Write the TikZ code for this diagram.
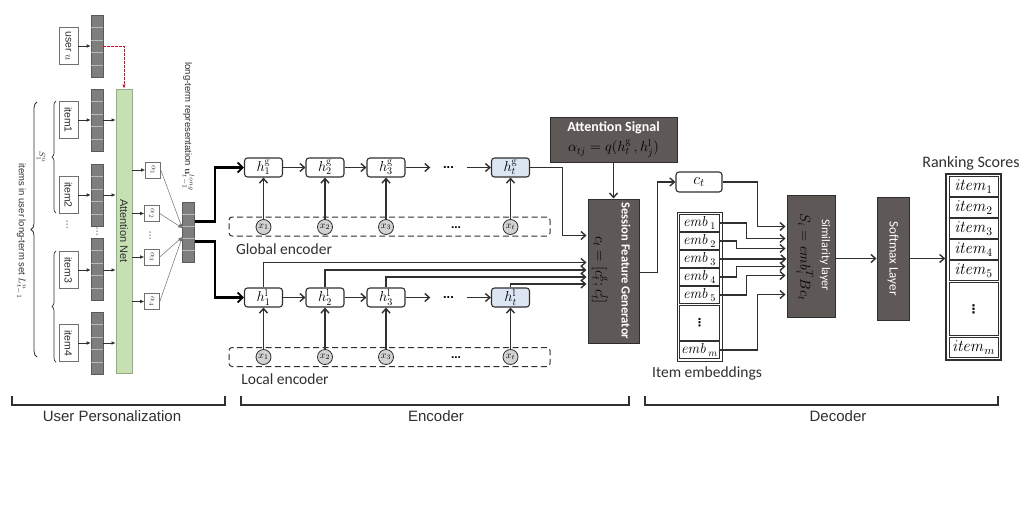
\RequirePackage{fix-cm}
\documentclass[tikz,border=0pt]{standalone}
\usepackage[no-math]{fontspec}
\setmainfont{Liberation Sans}
\newfontfamily\calib{Carlito}
\newfontfamily\djv{DejaVu Sans}
\usetikzlibrary{arrows.meta,calc,decorations.pathreplacing}
\definecolor{cellf}{HTML}{7E7E7E}
\definecolor{cellsep}{HTML}{B8B8B8}
\definecolor{celledge}{HTML}{5A5A5A}
\definecolor{grnf}{HTML}{C6E0B4}
\definecolor{grnd}{HTML}{93AE85}
\definecolor{dkf}{HTML}{5E5957}
\definecolor{dkd}{HTML}{2E2E2E}
\definecolor{lbl}{HTML}{DCE6F2}
\definecolor{circf}{HTML}{D2D2D2}
\definecolor{ink}{HTML}{303030}
\definecolor{redl}{HTML}{C8102E}
\definecolor{lgray}{HTML}{707070}
\newcommand{\fsz}[1]{\fontsize{#1}{#1}\selectfont}
\newcommand{\colseps}[1]{\foreach \k in {1,2,3,4}{\draw[cellsep, line width=0.6pt] ($(#1.north west)!\k/5!(#1.south west)$) -- ($(#1.north east)!\k/5!(#1.south east)$);}}
\begin{document}
\begin{tikzpicture}[x=1pt,y=-1pt,
 lbox/.style={draw=lgray, fill=white, line width=0.7pt, minimum width=19pt, minimum height=37pt, inner sep=0pt, font=\fsz{10.5}, text=ink},
 colb/.style={draw=celledge, fill=cellf, line width=0.6pt, minimum width=12pt, minimum height=62pt, inner sep=0pt, anchor=north},
 sarr/.style={draw=ink, line width=0.6pt, -{Latex[length=4pt,width=3.5pt]}},
 thinarr/.style={draw=lgray, line width=0.5pt, -{Latex[length=4pt,width=3.5pt]}},
 abox/.style={draw=lgray, fill=white, line width=0.6pt, minimum width=15pt, minimum height=16pt, inner sep=0pt, font=\fsz{8}, text=ink},
 thk/.style={draw=black, line width=2.3pt, -{Straight Barb[length=5pt,width=10pt,line width=1.8pt]}},
 arr/.style={draw=ink, line width=1.4pt, -{Straight Barb[length=4.5pt,width=8pt]}},
 hbox/.style={draw=ink, fill=white, line width=1.1pt, rounded corners=3pt, minimum width=38pt, minimum height=19pt, inner sep=0pt, font=\fsz{14.5}},
 xc/.style={circle, draw=ink, fill=circf, line width=0.8pt, minimum size=15pt, inner sep=0pt, font=\fsz{10}},
 dbox/.style={draw=ink, dash pattern=on 6pt off 3.5pt, line width=1pt, rounded corners=3pt, minimum width=321pt, minimum height=19pt, inner sep=0pt},
 dk/.style={draw=dkd, fill=dkf, line width=1pt, inner sep=0pt},
 ecell/.style={draw=ink, fill=white, line width=0.9pt, inner sep=0pt, minimum width=40pt, minimum height=16.5pt, font=\fsz{14.5}},
 rcell/.style={draw=ink, fill=white, line width=0.9pt, inner sep=0pt, minimum width=49pt, minimum height=19.5pt, font=\fsz{16.5}},
 vd/.style={font=\djv\fsz{9}, text=ink, inner sep=0pt},
 brk/.style={draw=ink, line width=1.2pt},
 enclab/.style={font=\calib\fsz{15.5}, text=ink},
 botlab/.style={font=\fsz{15}, text=ink}
]
\useasboundingbox (0,0) rectangle (1024,522);
\fill[white] (0,0) rectangle (1024,522);

% ---------------- user personalization ----------------
\node[lbox] (user) at (68.5,46) {\rotatebox{-90}{user $u$}};
\node[colb] (ucol) at (97,15) {}; \colseps{ucol}
\node[lbox] (it1) at (68.5,120) {\rotatebox{-90}{item1}};
\node[lbox] (it2) at (68.5,195) {\rotatebox{-90}{item2}};
\node[lbox] (it3) at (68.5,270) {\rotatebox{-90}{item3}};
\node[lbox] (it4) at (68.5,343) {\rotatebox{-90}{item4}};
\node[colb] (c1) at (97,89) {}; \colseps{c1}
\node[colb] (c2) at (97,164) {}; \colseps{c2}
\node[colb] (c3) at (97,238) {}; \colseps{c3}
\node[colb] (c4) at (97,312) {}; \colseps{c4}
\node[draw=grnd, fill=grnf, line width=0.8pt, minimum width=16pt, minimum height=284pt, inner sep=0pt, font=\fsz{11}, text=ink] (att) at (124,231) {\rotatebox{-90}{Attention Net}};
\node[vd] (vd1) at (67,225) {⋮};
\node[vd] (vd2) at (97,232) {⋮};
\node[vd] (vd3) at (150,236) {⋮};

\draw[sarr] (user.east) -- (ucol.west |- user.east);
\foreach \i in {1,2,3,4}{
  \draw[sarr] (it\i.east) -- (c\i.west |- it\i.east);
  \draw[sarr] (c\i.east |- it\i.east) -- (att.west |- it\i.east);
}
\draw[redl, line width=0.8pt, dash pattern=on 2.5pt off 1.5pt, -{Latex[length=4pt,width=3.5pt]}] (ucol.east |- user.east) -| (att.north);

\draw[ink, line width=0.7pt, decorate, decoration={brace, amplitude=4pt}] (56,213) -- (56,101);
\draw[ink, line width=0.7pt, decorate, decoration={brace, amplitude=4pt}] (56,362) -- (56,251);
\draw[ink, line width=0.8pt, decorate, decoration={brace, amplitude=6pt}] (37,357) -- (37,102);
\node[font=\fsz{8.5}, text=ink] (slab) at (41,157) {\rotatebox{-90}{$S^u_1$}};
\node[font=\fsz{9.5}, text=ink] (setlab) at (21,231) {\rotatebox{-90}{items in user long-term set $L^u_{t-1}$}};

\node[abox] (a1) at (153,170) {\rotatebox{-90}{$\alpha_1$}};
\node[abox] (a2) at (152,213.5) {\rotatebox{-90}{$\alpha_2$}};
\node[abox] (a3) at (152,257) {\rotatebox{-90}{$\alpha_3$}};
\node[abox] (a4) at (152,301.5) {\rotatebox{-90}{$\alpha_4$}};
\foreach \i in {1,2,3,4}{\draw[sarr] (att.east |- a\i.west) -- (a\i.west);}

\node[colb, minimum height=60pt] (lt) at (188.5,202) {}; \colseps{lt}
\coordinate (ltin1) at ($(lt.north west)!0.43!(lt.south west)$);
\coordinate (ltin2) at ($(lt.north west)!0.58!(lt.south west)$);
\draw[thinarr] (a1.east) -- (ltin1);
\draw[thinarr] (a2.east) -- (ltin1);
\draw[thinarr] (a3.east) -- (ltin2);
\draw[thinarr] (a4.east) -- (ltin2);
\node[font=\fsz{9.5}, text=ink] (ltlab) at (188,127) {\rotatebox{-90}{long-term representation $\mathbf{u}^{long}_{t-1}$}};
\coordinate (ltout1) at ($(lt.north east)!0.32!(lt.south east)$);
\coordinate (ltout2) at ($(lt.north east)!0.65!(lt.south east)$);

% ---------------- encoder ----------------
\node[dbox] (gdash) at (389.5,226.5) {};
\node[dbox] (ldash) at (389.5,357) {};
\node[hbox] (h1g) at (263.5,167.5) {$h^{\mathrm{g}}_1$};
\node[hbox] (h2g) at (325,167.5) {$h^{\mathrm{g}}_2$};
\node[hbox] (h3g) at (386,167.5) {$h^{\mathrm{g}}_3$};
\node[hbox, fill=lbl] (htg) at (510.5,167.5) {$h^{\mathrm{g}}_t$};
\node[minimum width=36pt, inner sep=0pt, font=\bfseries\fsz{13}] (dg) at (448.5,167.5) {...};
\node[hbox] (h1l) at (263.5,297.5) {$h^{\mathrm{l}}_1$};
\node[hbox] (h2l) at (325,297.5) {$h^{\mathrm{l}}_2$};
\node[hbox] (h3l) at (386,297.5) {$h^{\mathrm{l}}_3$};
\node[hbox, fill=lbl] (htl) at (510.5,297.5) {$h^{\mathrm{l}}_t$};
\node[minimum width=36pt, inner sep=0pt, font=\bfseries\fsz{13}] (dl) at (448.5,297.5) {...};
\node[xc] (xg1) at (263.5,227) {$x_1$};
\node[xc] (xg2) at (325,227) {$x_2$};
\node[xc] (xg3) at (386,227) {$x_3$};
\node[xc] (xgt) at (510.5,227) {$x_t$};
\node[font=\bfseries\fsz{12}] (dgx) at (456,228) {...};
\node[xc] (xl1) at (263.5,357) {$x_1$};
\node[xc] (xl2) at (325,357) {$x_2$};
\node[xc] (xl3) at (386,357) {$x_3$};
\node[xc] (xlt) at (510.5,357) {$x_t$};
\node[font=\bfseries\fsz{12}] (dlx) at (456,358) {...};
\node[enclab] (glab) at (284,249) {Global encoder};
\node[enclab] (llab) at (285,379) {Local encoder};

\foreach \a in {1,2,3,t}{
  \draw[arr] (xg\a.north) -- (h\a g.south);
  \draw[arr] (xl\a.north) -- (h\a l.south);
}
\draw[arr] (h1g) -- (h2g);
\draw[arr] (h2g) -- (h3g);
\draw[arr] (h3g.east) -- (dg.west);
\draw[arr] (dg.east) -- (htg.west);
\draw[arr] (h1l) -- (h2l);
\draw[arr] (h2l) -- (h3l);
\draw[arr] (h3l.east) -- (dl.west);
\draw[arr] (dl.east) -- (htl.west);

\draw[thk] (ltout1) -| ($(h1g.west)+(-29,0)$) -- (h1g.west);
\draw[thk] (ltout2) -| ($(h1l.west)+(-29,0)$) -- (h1l.west);

% ---------------- attention signal & SFG ----------------
\node[dk, minimum width=127pt, minimum height=45pt] (asig) at (613.5,139.5) {};
\node[text=white, font=\calib\bfseries\fsz{14}] (asigt) at (613.5,128) {Attention Signal};
\node[font=\fsz{14.5}] (asigf) at (613.5,148.5) {$\alpha_{tj} = q(h^{\mathrm{g}}_t\,, h^{\mathrm{l}}_j)$};
\node[dk, minimum width=51pt, minimum height=144pt] (sfg) at (613.5,271) {};
\node[text=white, font=\calib\bfseries\fsz{12.5}] (sfgt) at (626,271) {\rotatebox{-90}{Session Feature Generator}};
\node[font=\fsz{15}] (sfgf) at (600,270) {\rotatebox{-90}{$c_t=[c^{\mathrm{g}}_t ; c^{l}_t]$}};
\draw[arr] (asig.south) -- (sfg.north);
\coordinate (sg0) at ($(sfg.north west)+(-1,37)$);
\coordinate (sg1) at ($(sfg.north west)+(-1,64)$);
\coordinate (sg2) at ($(sfg.north west)+(-1,71.5)$);
\coordinate (sg3) at ($(sfg.north west)+(-1,78.5)$);
\coordinate (sg4) at ($(sfg.north west)+(-1,85.5)$);
\draw[arr] (htg.east) -| ($(sg0)+(-24,0)$) -- (sg0);
\draw[arr] (h1l.north) |- (sg1);
\draw[arr] (h2l.north) |- (sg2);
\draw[arr] (h3l.north) |- (sg3);
\draw[arr] (htl.north) |- (sg4);

% ---------------- decoder ----------------
\node[hbox, minimum width=46pt, minimum height=20pt, font=\fsz{16}] (ct) at (699,182) {$c_t$};
\draw[arr] ($(sfg.north east)+(0,74)$) -| ($(ct.west)+(-18,0)$) -- (ct.west);

\node[draw=ink, line width=0.8pt, minimum width=45pt, minimum height=149pt, inner sep=0pt] (etab) at (699.5,286.5) {};
\node[ecell] (e1) at (699.5,223) {$\mathit{emb}_{\,1}$};
\node[ecell] (e2) at (699.5,241) {$\mathit{emb}_{\,2}$};
\node[ecell] (e3) at (699.5,259) {$\mathit{emb}_{\,3}$};
\node[ecell] (e4) at (699.5,277) {$\mathit{emb}_{\,4}$};
\node[ecell] (e5) at (699.5,295) {$\mathit{emb}_{\,5}$};
\node[ecell, minimum height=35pt, font=\djv\bfseries\fsz{11}] (ed) at (699.5,322.5) {⋮};
\node[ecell] (em) at (699.5,350) {$\mathit{emb}_{\,m}$};
\node[font=\calib\fsz{15.5}, text=ink] (elab) at (707,373) {Item embeddings};

\node[dk, minimum width=48pt, minimum height=122pt] (sim) at (811,256) {};
\node[text=white, font=\calib\fsz{12}] (simt) at (825,255) {\rotatebox{-90}{Similarity layer}};
\node[font=\fsz{14.5}] (simf) at (805,257) {\rotatebox{-90}{$S_i=\mathit{emb}^{T}_{i}Bc_t$}};
\coordinate (si0) at ($(sim.north west)+(-1,32)$);
\coordinate (si1) at ($(sim.north west)+(-1,44)$);
\coordinate (si2) at ($(sim.north west)+(-1,54)$);
\coordinate (si3) at (sim.west |- e3.east);
\coordinate (si4) at ($(sim.north west)+(-1,72)$);
\coordinate (si5) at ($(sim.north west)+(-1,81)$);
\coordinate (si6) at ($(sim.north west)+(-1,100)$);
\draw[arr] (ct.east) -| ($(si0)+(-28,0)$) -- (si0);
\draw[arr] (e1.east) -| ($(si1)+(-39,0)$) -- (si1);
\draw[arr] (e2.east) -| ($(si2)+(-49,0)$) -- (si2);
\draw[arr] (e3.east) -- (si3);
\draw[arr] (e4.east) -| ($(si4)+(-49,0)$) -- (si4);
\draw[arr] (e5.east) -| ($(si5)+(-39,0)$) -- (si5);
\draw[arr] (em.east) -| ($(si6)+(-28,0)$) -- (si6);

\node[dk, minimum width=32pt, minimum height=123pt, text=white, font=\calib\fsz{13}] (smx) at (893,258.5) {\rotatebox{-90}{Softmax Layer}};
\draw[arr] (sim.east |- smx.west) -- (smx.west);

\node[draw=ink, line width=1.6pt, minimum width=55pt, minimum height=186pt, inner sep=0pt] (rtab) at (973.5,267) {};
\node[rcell] (r1) at (973.5,186.5) {$\mathit{item}_1$};
\node[rcell] (r2) at (973.5,207.5) {$\mathit{item}_2$};
\node[rcell] (r3) at (973.5,228.5) {$\mathit{item}_3$};
\node[rcell] (r4) at (973.5,249.5) {$\mathit{item}_4$};
\node[rcell] (r5) at (973.5,270.5) {$\mathit{item}_5$};
\node[rcell, minimum height=53pt, font=\djv\bfseries\fsz{12}] (rd) at (973.5,309) {⋮};
\node[rcell] (rm) at (973.5,347.5) {$\mathit{item}_m$};
\node[font=\calib\fsz{16}, text=ink] (rlab) at (971,163) {Ranking Scores};
\draw[arr] (smx.east) -- (rtab.west |- smx.east);

% ---------------- bottom brackets ----------------
\coordinate (b1a) at (12,396); \coordinate (b1b) at (225,396);
\coordinate (b2a) at (241,396); \coordinate (b2b) at (629,396);
\coordinate (b3a) at (645,396); \coordinate (b3b) at (998,396);
\draw[brk] (b1a) -- ++(0,9) -| (b1b);
\draw[brk] (b2a) -- ++(0,9) -| (b2b);
\draw[brk] (b3a) -- ++(0,9) -| (b3b);
\node[botlab] (bl1) at (112,416) {User Personalization};
\node[botlab] (bl2) at (436,416) {Encoder};
\node[botlab] (bl3) at (838,416) {Decoder};
\end{tikzpicture}
\end{document}
